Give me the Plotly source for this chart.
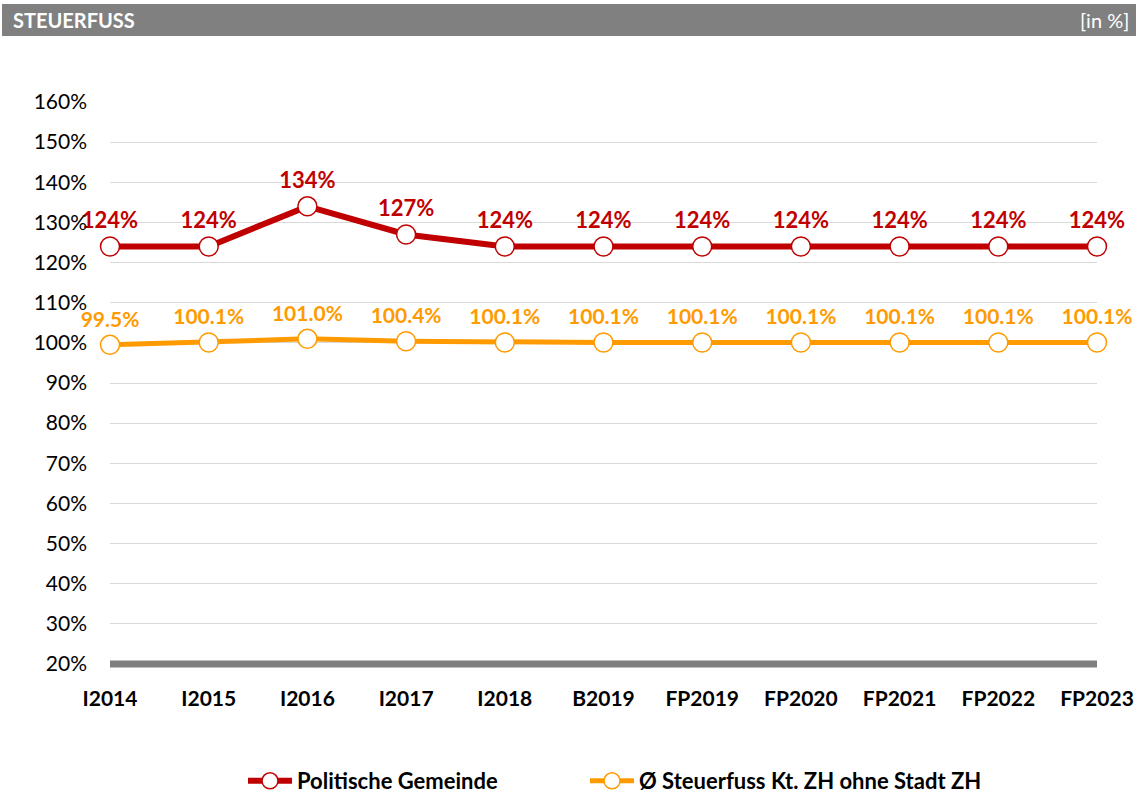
import plotly.graph_objects as go

categories = ['I2014', 'I2015', 'I2016', 'I2017', 'I2018', 'B2019',
              'FP2019', 'FP2020', 'FP2021', 'FP2022', 'FP2023']
gemeinde = [124, 124, 134, 127, 124, 124, 124, 124, 124, 124, 124]
kanton = [99.5, 100.1, 101.0, 100.4, 100.1, 100.1, 100.1, 100.1, 100.1, 100.1, 100.1]
y_ticks = list(range(20, 161, 10))

RED = '#C00000'
ORANGE = '#FF9A00'
GREY = '#808080'
FONT = 'Lato, Open Sans, sans-serif'

W, H = 1138, 794
L, R, T, B = 110, 41, 102, 130
pw, ph = W - L - R, H - T - B


def px_x(x):
    return (x - L) / pw


def px_y(y):
    return (H - B - y) / ph


fig = go.Figure()

fig.add_trace(go.Scatter(
    x=list(range(len(categories))), y=gemeinde,
    mode='lines+markers+text',
    name='Politische Gemeinde',
    line=dict(color=RED, width=6),
    marker=dict(size=19, color='white', line=dict(color=RED, width=1.5)),
    text=[f'{v:.0f}%' for v in gemeinde],
    textposition='top center',
    textfont=dict(color=RED, size=22, family=FONT, weight='bold'),
    cliponaxis=False,
    legend='legend',
))

fig.add_trace(go.Scatter(
    x=list(range(len(categories))), y=kanton,
    mode='lines+markers+text',
    name='Ø Steuerfuss Kt. ZH ohne Stadt ZH',
    line=dict(color=ORANGE, width=5),
    marker=dict(size=19, color='white', line=dict(color=ORANGE, width=1.5)),
    text=[f'{v:.1f}%' for v in kanton],
    textposition='top center',
    textfont=dict(color=ORANGE, size=21, family=FONT, weight='bold'),
    cliponaxis=False,
    legend='legend2',
))

# header bar
fig.add_shape(type='rect', xref='paper', yref='paper',
              x0=px_x(2), x1=px_x(1136), y0=px_y(36), y1=px_y(4),
              fillcolor=GREY, line_width=0, layer='below')
fig.add_annotation(xref='paper', yref='paper', x=px_x(11), y=px_y(20),
                   xanchor='left', yanchor='middle', showarrow=False,
                   text='<b>STEUERFUSS</b>',
                   font=dict(color='white', size=20, family=FONT))
fig.add_annotation(xref='paper', yref='paper', x=px_x(1131), y=px_y(20),
                   xanchor='right', yanchor='middle', showarrow=False,
                   text='[in %]',
                   font=dict(color='white', size=20, family=FONT))

legend_style = dict(
    orientation='h',
    y=px_y(781), yanchor='middle', xanchor='left',
    font=dict(size=22, family=FONT, weight='bold'),
    itemwidth=44,
)

fig.update_layout(
    width=W, height=H,
    margin=dict(l=L, r=R, t=T, b=B, autoexpand=False),
    paper_bgcolor='white',
    plot_bgcolor='white',
    font=dict(family=FONT, color='black'),
    showlegend=True,
    legend=dict(x=px_x(243), **legend_style),
    legend2=dict(x=px_x(585), **legend_style),
    xaxis=dict(
        range=[0, len(categories) - 1],
        tickvals=list(range(len(categories))),
        ticktext=categories,
        tickfont=dict(size=21, family=FONT, weight='bold'),
        showgrid=False,
        zeroline=False,
        showline=False,
        ticks='',
        ticklabelstandoff=20,
        automargin=False,
        fixedrange=True,
    ),
    yaxis=dict(
        range=[20, 160],
        tickvals=y_ticks,
        ticktext=[f'{v}%' for v in y_ticks],
        tickfont=dict(size=21, family=FONT),
        showgrid=True,
        gridcolor='#D9D9D9',
        gridwidth=1,
        zeroline=False,
        showline=False,
        ticks='',
        ticklabelstandoff=22,
        automargin=False,
        fixedrange=True,
    ),
)

# thick base line along the bottom of the plot area (20%)
fig.add_shape(type='line', xref='paper', yref='paper',
              x0=0, x1=1, y0=0, y1=0,
              line=dict(color=GREY, width=7), layer='below')

fig.write_html('out.html', config={'displayModeBar': False},
               post_script="document.body.style.margin='0';")
